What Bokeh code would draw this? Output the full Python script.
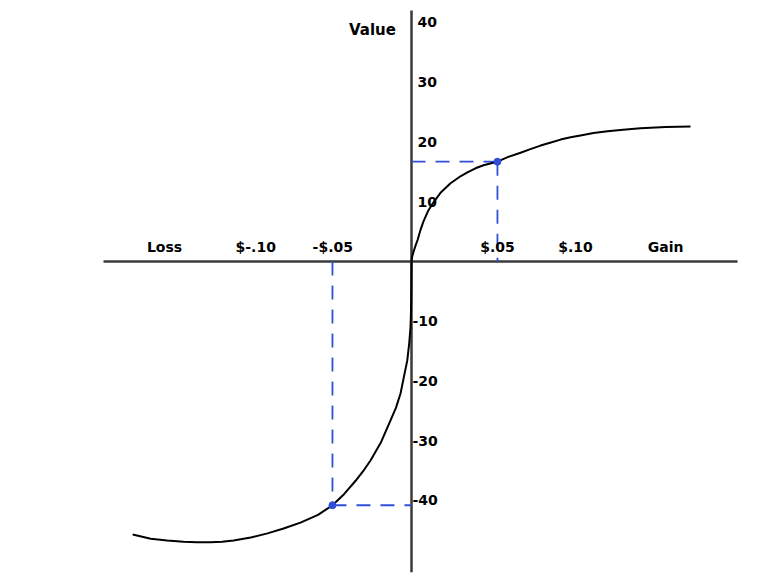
from bokeh.plotting import figure
from bokeh.models import Range1d, ColumnDataSource
from bokeh.core.properties import value
from bokeh.embed import file_html
from bokeh.resources import INLINE

# ---- data ----
gain_x = [0.0, 0.0004, 0.0012, 0.0024, 0.0037, 0.0055, 0.0073, 0.0100, 0.0134,
          0.0180, 0.0238, 0.0290, 0.0341, 0.0390, 0.0439, 0.0480, 0.0524, 0.0590,
          0.0665, 0.0725, 0.0787, 0.0850, 0.0909, 0.0970, 0.1030, 0.1110, 0.1195,
          0.1290, 0.1396, 0.1550, 0.1701]
gain_y = [0.0, 0.8, 1.6, 2.6, 3.6, 5.3, 6.7, 8.4, 9.9,
          11.6, 13.1, 14.1, 14.9, 15.6, 16.1, 16.4, 16.7, 17.5,
          18.2, 18.8, 19.4, 19.9, 20.4, 20.8, 21.1, 21.5, 21.8,
          22.05, 22.3, 22.5, 22.6]
loss_x = [0.0, -0.0001, -0.0003, -0.0006, -0.0014, -0.0026, -0.0047, -0.0067,
          -0.0095, -0.0128, -0.0185, -0.025, -0.0295, -0.0341, -0.041, -0.0482,
          -0.057, -0.0677, -0.078, -0.0878, -0.098, -0.1085, -0.1155, -0.1226,
          -0.131, -0.139, -0.149, -0.159, -0.170]
loss_y = [0.0, -4.0, -8.2, -11.0, -13.7, -16.6, -19.4, -22.1,
          -24.5, -26.6, -30.2, -33.3, -35.1, -36.7, -38.9, -40.8,
          -42.4, -43.7, -44.7, -45.5, -46.2, -46.7, -46.9, -47.0,
          -47.0, -46.9, -46.7, -46.4, -45.7]

mark_x = [0.0524, -0.0482]
mark_y = [16.7, -40.8]

y_ticks = [40, 30, 20, 10, -10, -20, -30, -40]
y_tick_labels = ["40", "30", "20", "10", "-10", "-20", "-30", "-40"]
x_ticks = [-0.095, -0.048, 0.0524, 0.1]
x_tick_labels = ["$-.10", "-$.05", "$.05", "$.10"]
x_end_labels = ["Loss", "Gain"]
x_end_pos = [-0.1506, 0.155]
y_title = "Value"

W, H = 782, 577
p = figure(width=W, height=H, output_backend="svg", toolbar_location=None,
           x_range=Range1d(-0.2506, 0.2262), y_range=Range1d(-52.89, 43.68),
           min_border=0, outline_line_color=None)
p.axis.visible = False
p.grid.visible = False
p.background_fill_color = "white"
p.border_fill_color = "white"

axis_col = "#3a3a3a"
# axes lines through origin
p.line([-0.1878, 0.1988], [0, 0], line_color=axis_col, line_width=2.5)
p.line([0, 0], [42.0, -52.0], line_color=axis_col, line_width=2.5)

# dashed guides
blue = "#2f4fd8"
dash = "14 10"
p.line([0, mark_x[0]], [mark_y[0], mark_y[0]], line_color=blue, line_width=1.8, line_dash=dash)
p.line([mark_x[0], mark_x[0]], [mark_y[0], 0], line_color=blue, line_width=1.8, line_dash=dash)
p.line([mark_x[1], mark_x[1]], [0, mark_y[1]], line_color=blue, line_width=1.8, line_dash=dash)
p.line([mark_x[1], 0], [mark_y[1], mark_y[1]], line_color=blue, line_width=1.8, line_dash=dash)

# value curve
p.line(gain_x, gain_y, line_color="black", line_width=2, line_join="round")
p.line(loss_x, loss_y, line_color="black", line_width=2, line_join="round")

p.scatter(mark_x, mark_y, size=7, color=blue)

font = value("DejaVu Sans")
# y tick labels
pos_src = ColumnDataSource(dict(x=[0.0036] * 4, y=y_ticks[:4], t=y_tick_labels[:4]))
neg_src = ColumnDataSource(dict(x=[0.0006] * 4, y=y_ticks[4:], t=y_tick_labels[4:]))
for src in (pos_src, neg_src):
    p.text(x="x", y="y", text="t", source=src, text_font=font, text_font_size="14px",
           text_font_style="bold", text_align="left", text_baseline="middle",
           text_color="black")

# x tick labels (above axis)
xs = ColumnDataSource(dict(x=x_ticks + x_end_pos, y=[2.4] * 6,
                           t=x_tick_labels + x_end_labels))
p.text(x="x", y="y", text="t", source=xs, text_font=font, text_font_size="14px",
       text_font_style="bold", text_align="center", text_baseline="middle",
       text_color="black")

# y title
p.text(x=[-0.0238], y=[38.8], text=[y_title], text_font=font, text_font_size="15px",
       text_font_style="bold", text_align="center", text_baseline="middle",
       text_color="black")

open("out.html", "w").write(file_html(p, INLINE))
